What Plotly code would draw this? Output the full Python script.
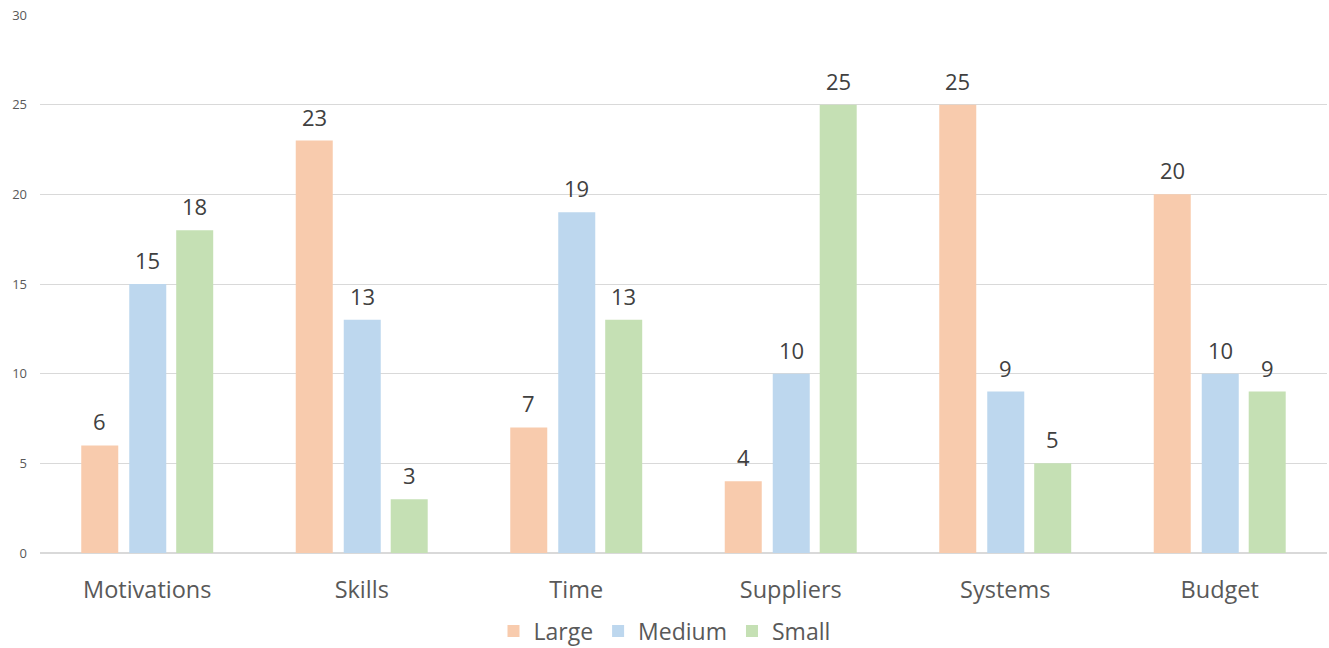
import plotly.graph_objects as go

categories = ["Motivations", "Skills", "Time", "Suppliers", "Systems", "Budget"]
large = [6, 23, 7, 4, 25, 20]
medium = [15, 13, 19, 10, 9, 10]
small = [18, 3, 13, 25, 5, 9]
series_names = ["Large", "Medium", "Small"]
colors = ["#F8CBAD", "#BDD7EE", "#C5E0B4"]

series = [large, medium, small]
bar_w = 0.1725
offsets = [-0.3077, -0.0839, 0.135]
FONT = "Open Sans"

fig = go.Figure()
annotations = []
for name, vals, col, off in zip(series_names, series, colors, offsets):
    fig.add_trace(go.Bar(
        x=categories, y=vals, name=name, marker=dict(color=col, line=dict(width=0)),
        width=bar_w, offset=off,
    ))
    for i, v in enumerate(vals):
        annotations.append(dict(
            x=i + off + bar_w / 2, y=v, xref="x", yref="y", text=str(v),
            showarrow=False, yanchor="middle", yshift=24,
            font=dict(size=22, color="#404040", family=FONT),
        ))

fig.update_layout(
    width=1329, height=648,
    margin=dict(l=40, r=2, t=15, b=95, autoexpand=False),
    plot_bgcolor="white", paper_bgcolor="white",
    font=dict(family=FONT, color="#595959"),
    barmode="group",
    showlegend=True,
    legend=dict(orientation="h", x=0.5, xanchor="center", xref="container",
                y=1 - 631 / 648, yanchor="middle", yref="container",
                font=dict(size=23, color="#595959", family=FONT), itemwidth=30,
                tracegroupgap=0),
    annotations=annotations,
)
fig.update_xaxes(tickfont=dict(size=23.5, color="#595959", family=FONT), showgrid=False,
                 showline=False, ticks="", range=[-0.5, 5.5], ticklabelstandoff=20,
                 automargin=False)
fig.update_yaxes(range=[0, 30], dtick=5, tickfont=dict(size=13, color="#595959", family=FONT),
                 gridcolor="#D9D9D9", gridwidth=1, zeroline=True, zerolinecolor="#D9D9D9",
                 ticklabelstandoff=12, showline=False, automargin=False)

fig.write_html("out.html")
